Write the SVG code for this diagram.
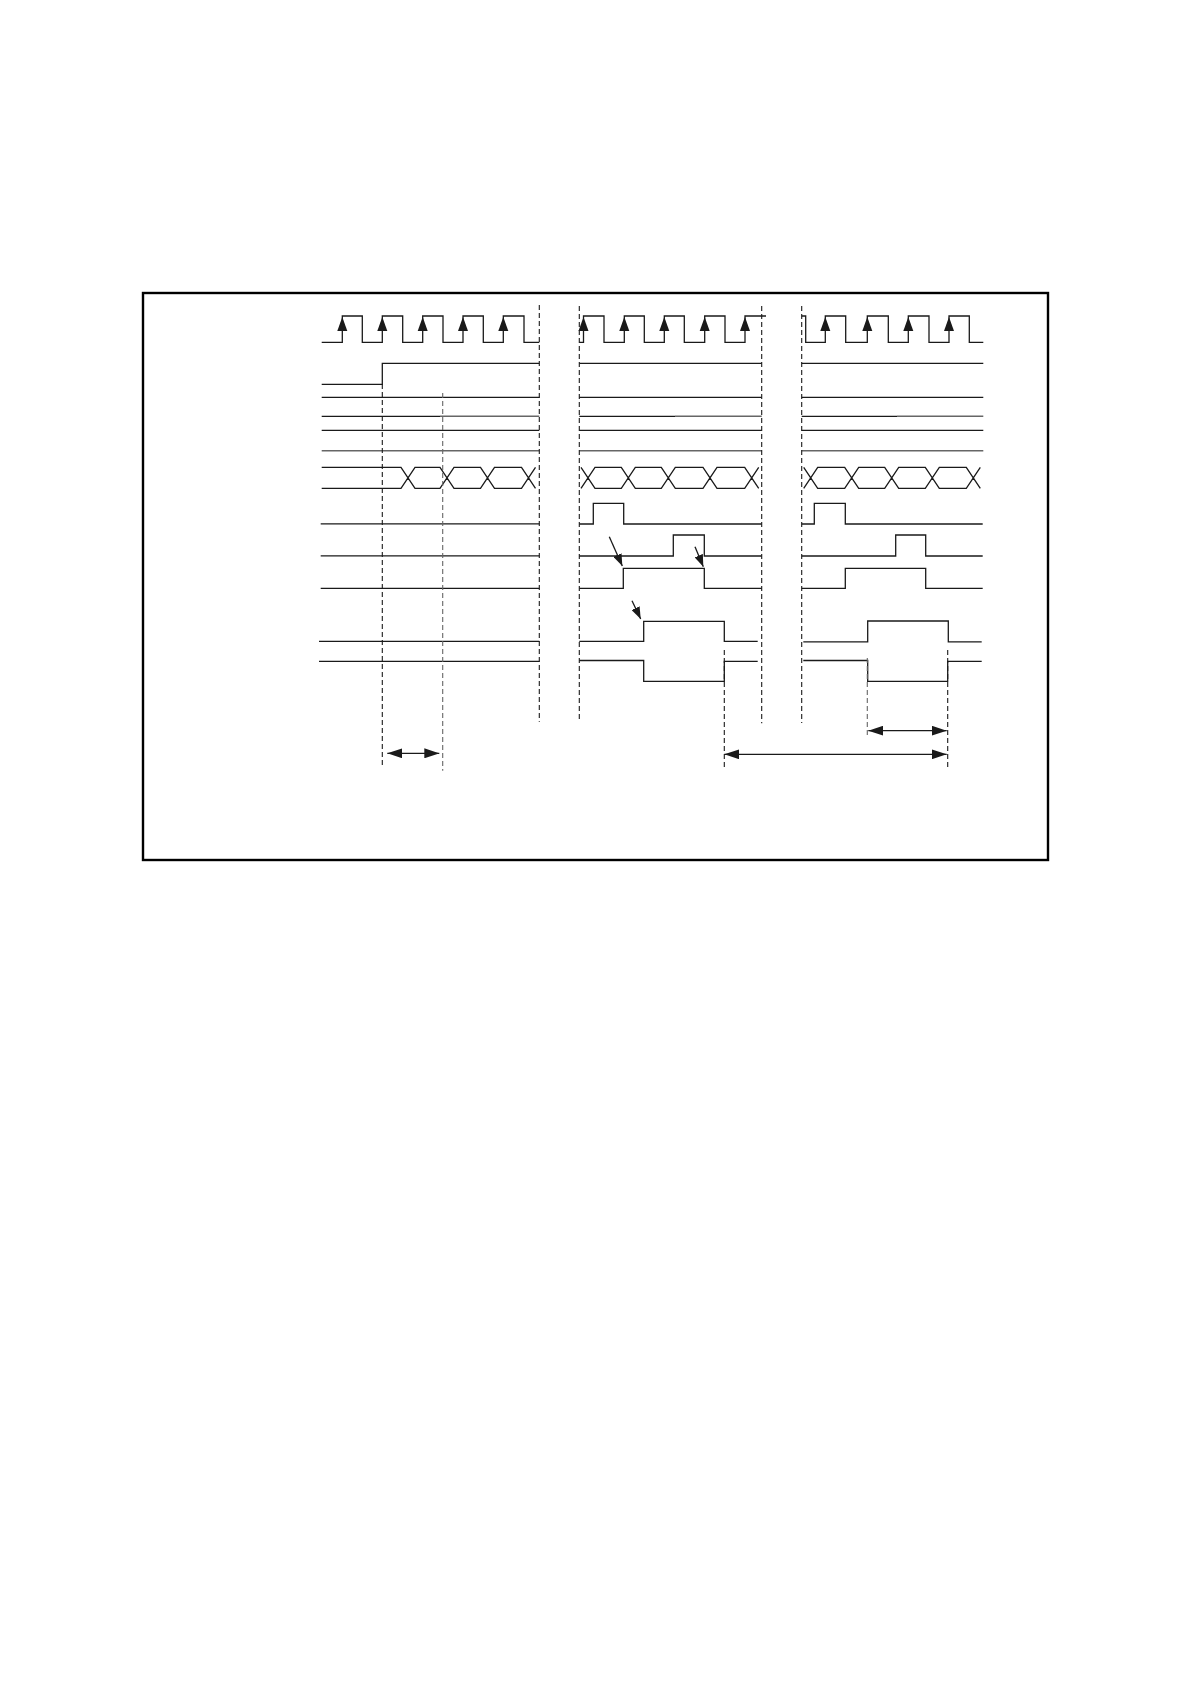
<svg xmlns="http://www.w3.org/2000/svg" xmlns:xlink="http://www.w3.org/1999/xlink" width="1190" height="1684" viewBox="0 0 1190 1684">
<style>
.sig{fill:none;stroke:#1a1a1a;stroke-width:1.3;stroke-linejoin:miter}
.gray{fill:none;stroke:#666;stroke-width:1.4}
.dash{fill:none;stroke:#1a1a1a;stroke-width:1.1;stroke-dasharray:5 3}
.dashg{fill:none;stroke:#666;stroke-width:1.1;stroke-dasharray:5 3}
.dim{fill:none;stroke:#1a1a1a;stroke-width:1.3}
.frame{fill:none;stroke:#000;stroke-width:2.4}
</style>
<defs>
<path id="clk" d="M0,0 L5,14 L-5,14 Z" fill="#1a1a1a"/>
<marker id="dimArr" markerUnits="userSpaceOnUse" viewBox="0 0 15 10" refX="15" refY="5" markerWidth="15" markerHeight="10" orient="auto-start-reverse">
<path d="M0,0 L15,5 L0,10 Z" fill="#1a1a1a"/>
</marker>
<marker id="ptr" markerUnits="userSpaceOnUse" viewBox="0 0 12 9" refX="12" refY="4.5" markerWidth="12" markerHeight="9" orient="auto">
<path d="M0,0 L12,4.5 L0,9 Z" fill="#1a1a1a"/>
</marker>
</defs>
<rect width="1190" height="1684" fill="#fff"/>
<rect id="frame" class="frame" x="143" y="293" width="905" height="567"/>

<g id="clock">
<path class="sig" d="M321.7,342.3 H342.3 V316 H362.3 V342.3 H382.3 V316 H402.7 V342.3 H422.7 V316 H443 V342.3 H463 V316 H483.3 V342.3 H503.3 V316 H524 V342.3 H539.3"/>
<path class="sig" d="M579.3,342.3 H583.5 V316 H604 V342.3 H624.3 V316 H644.3 V342.3 H664.3 V316 H684.3 V342.3 H704.7 V316 H725 V342.3 H745 V316 H766"/>
<path class="sig" d="M801.7,316 H805.7 V342.3 H825.3 V316 H845.7 V342.3 H867.3 V316 H888.3 V342.3 H908.3 V316 H929 V342.3 H949 V316 H969.3 V342.3 H983.3"/>
<use xlink:href="#clk" x="342.3" y="317"/>
<use xlink:href="#clk" x="382.3" y="317"/>
<use xlink:href="#clk" x="422.7" y="317"/>
<use xlink:href="#clk" x="463" y="317"/>
<use xlink:href="#clk" x="503.3" y="317"/>
<use xlink:href="#clk" x="583.5" y="317"/>
<use xlink:href="#clk" x="624.3" y="317"/>
<use xlink:href="#clk" x="664.3" y="317"/>
<use xlink:href="#clk" x="704.7" y="317"/>
<use xlink:href="#clk" x="745" y="317"/>
<use xlink:href="#clk" x="825.3" y="317"/>
<use xlink:href="#clk" x="867.3" y="317"/>
<use xlink:href="#clk" x="908.3" y="317"/>
<use xlink:href="#clk" x="949" y="317"/>
</g>

<g id="sig2">
<path class="sig" d="M321.7,384.3 H382.3 V363.3 H539.3"/>
<path class="sig" d="M579.3,363.3 H761.7"/>
<path class="sig" d="M801.7,363.3 H983.3"/>
</g>

<g id="static-lines">
<path class="sig" d="M321.7,397.3 H539.3 M579.3,397.3 H761.7 M801.7,397.3 H983.3"/>
<path class="sig" d="M321.7,416.3 H440 M579.3,416.3 H675 M801.7,416.3 H897"/>
<path class="gray" d="M440,416.3 H539.3 M675,416.3 H761.7 M897,416.3 H983.3"/>
<path class="sig" d="M321.7,430.3 H539.3 M579.3,430.3 H761.7 M801.7,430.3 H983.3"/>
<path class="gray" d="M321.7,450.7 H539.3 M579.3,450.7 H761.7 M801.7,450.7 H983.3"/>
</g>

<g id="bus">
<path class="sig" d="M321.7,467.3 H401 L415,488.3 H440 L454,467.3 H480.5 L494.5,488.3 H521.5 L535.5,467.3 M321.7,488.3 H401 L415,467.3 H440 L454,488.3 H480.5 L494.5,467.3 H521.5 L535.5,488.3"/>
<path class="sig" d="M581,467.3 L595,488.3 H621.3 L635.3,467.3 H661.3 L675.3,488.3 H703 L717,467.3 H744.7 L758.7,488.3 M581,488.3 L595,467.3 H621.3 L635.3,488.3 H661.3 L675.3,467.3 H703 L717,488.3 H744.7 L758.7,467.3"/>
<path class="sig" d="M803.7,467.3 L817.7,488.3 H844.7 L858.7,467.3 H884.7 L898.7,488.3 H925.3 L939.3,467.3 H966.3 L980.3,488.3 M803.7,488.3 L817.7,467.3 H844.7 L858.7,488.3 H884.7 L898.7,467.3 H925.3 L939.3,488.3 H966.3 L980.3,467.3"/>
</g>

<g id="rowA">
<path class="sig" d="M320.7,523.8 H539.3"/>
<path class="sig" d="M579.3,524 H593.3 V503.3 H623.7 V524 H761.7"/>
<path class="sig" d="M801.7,524 H814.3 V503.3 H845.3 V524 H982.7"/>
</g>
<g id="rowB">
<path class="sig" d="M320.7,555.8 H539.3"/>
<path class="sig" d="M579.3,556 H673.3 V535 H704.3 V556 H761.7"/>
<path class="sig" d="M801.7,556 H895.7 V535 H925.7 V556 H982.7"/>
</g>
<g id="rowC">
<path class="sig" d="M320.7,588.3 H539.3"/>
<path class="sig" d="M579.3,588.3 H623.3 V568.3 H704.3 V588.3 H761.7"/>
<path class="sig" d="M801.7,588.3 H845.3 V568.3 H925.7 V588.3 H982.7"/>
</g>
<g id="rowD">
<path class="sig" d="M319,641.3 H539.3"/>
<path class="sig" d="M579.3,641.3 H643.7 V621.3 H724.3 V641.3 H757.7"/>
<path class="sig" d="M803.3,641.8 H867.7 V621 H948.3 V641.8 H981.7"/>
</g>
<g id="rowE">
<path class="sig" d="M319,661.3 H539.3"/>
<path class="sig" d="M579.3,660.5 H643.7 V681.3 H724.3 V661.3 H757.7"/>
<path class="sig" d="M803.3,660.5 H867.7 V681.3 H947.7 V661.3 H981.7"/>
</g>

<g id="connectors">
<path class="dash" d="M382.3,384 V766.7"/>
<path class="dashg" d="M442.7,393 V770.7"/>
<path class="dash" d="M539.3,305 V721.7"/>
<path class="dash" d="M579.3,306 V721.7"/>
<path class="dash" d="M761.7,306 V723.3"/>
<path class="dash" d="M801.7,306 V723"/>
<path class="dash" d="M724.3,650 V768.3"/>
<path class="dashg" d="M867.3,658 V738"/>
<path class="dash" d="M947.7,650 V768.3"/>
<line class="dim" x1="387.3" y1="753.3" x2="439.3" y2="753.3" marker-start="url(#dimArr)" marker-end="url(#dimArr)"/>
<line class="dim" x1="868.3" y1="730.7" x2="946.7" y2="730.7" marker-start="url(#dimArr)" marker-end="url(#dimArr)"/>
<line class="dim" x1="724.3" y1="754.3" x2="946.7" y2="754.3" marker-start="url(#dimArr)" marker-end="url(#dimArr)"/>
<line class="dim" x1="609.3" y1="536.7" x2="622.3" y2="566" marker-end="url(#ptr)"/>
<line class="dim" x1="695" y1="546.7" x2="703.3" y2="566.7" marker-end="url(#ptr)"/>
<line class="dim" x1="632" y1="600.7" x2="640.7" y2="619" marker-end="url(#ptr)"/>
</g>
</svg>
